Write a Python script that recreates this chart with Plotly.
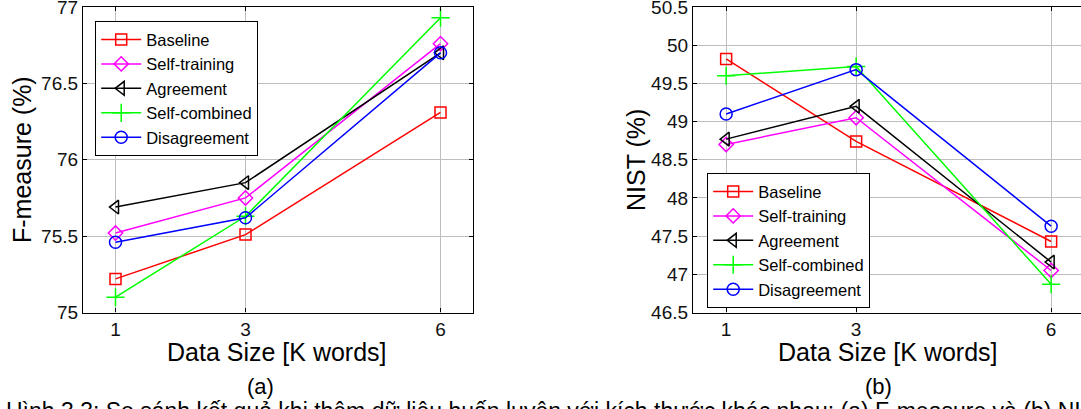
import plotly.graph_objects as go

W, H = 1081, 409

x_vals = [1, 3, 6]
x_ticks = [1, 3, 6]
series_names = ["Baseline", "Self-training", "Agreement", "Self-combined", "Disagreement"]
fmeasure = {
    "Baseline": [75.22, 75.51, 76.31],
    "Self-training": [75.52, 75.75, 76.76],
    "Agreement": [75.69, 75.85, 76.70],
    "Self-combined": [75.10, 75.63, 76.93],
    "Disagreement": [75.46, 75.62, 76.70],
}
nist = {
    "Baseline": [49.82, 48.74, 47.43],
    "Self-training": [48.70, 49.05, 47.05],
    "Agreement": [48.77, 49.20, 47.16],
    "Self-combined": [49.60, 49.72, 46.87],
    "Disagreement": [49.10, 49.68, 47.63],
}
f_ticks = [75, 75.5, 76, 76.5, 77]
n_ticks = [46.5, 47, 47.5, 48, 48.5, 49, 49.5, 50, 50.5]

colors = {"Baseline": "#ff0000", "Self-training": "#ff00ff", "Agreement": "#000000",
          "Self-combined": "#00ff00", "Disagreement": "#0000ff"}
symbols = {"Baseline": "square-open", "Self-training": "diamond-open", "Agreement": "triangle-left-open",
           "Self-combined": "cross-thin-open", "Disagreement": "circle-open"}
sizes = {"Baseline": 11, "Self-training": 11, "Agreement": 12, "Self-combined": 13, "Disagreement": 12}

FONT = "Liberation Sans, Arial, sans-serif"

def px(x):
    return x / W

def py(y):
    return 1 - y / H

fig = go.Figure()
for name in series_names:
    fig.add_trace(go.Scatter(x=x_vals, y=fmeasure[name], name=name, mode="lines+markers",
                             line=dict(color=colors[name], width=1.5),
                             marker=dict(symbol=symbols[name], size=sizes[name], color=colors[name],
                                         line=dict(width=1.5, color=colors[name])),
                             xaxis="x", yaxis="y", legend="legend"))
for name in series_names:
    fig.add_trace(go.Scatter(x=x_vals, y=nist[name], name=name, mode="lines+markers",
                             line=dict(color=colors[name], width=1.5),
                             marker=dict(symbol=symbols[name], size=sizes[name], color=colors[name],
                                         line=dict(width=1.5, color=colors[name])),
                             xaxis="x2", yaxis="y2", legend="legend2"))

axis_common = dict(showline=True, linecolor="black", linewidth=1.2, ticks="inside", ticklen=4,
                   tickcolor="black", showgrid=True, gridcolor="#bdbdbd", gridwidth=1, zeroline=False,
                   ticklabeloverflow="allow",
                   tickfont=dict(size=19, color="#111111", family=FONT))

ydom = [py(312.5), py(7)]
legend_common = dict(xanchor="left", yanchor="top", bgcolor="white",
                     bordercolor="black", borderwidth=1.2, font=dict(size=16.5, family=FONT),
                     tracegroupgap=0, itemwidth=40)
fig.update_layout(
    width=W, height=H, autosize=False, margin=dict(l=0, r=0, t=0, b=0, autoexpand=False),
    paper_bgcolor="white", plot_bgcolor="white",
    font=dict(family=FONT, color="black"),
    xaxis=dict(domain=[px(83), px(473)], range=[0.5, 6.5], tickvals=x_ticks, mirror="ticks",
               anchor="y", **axis_common),
    yaxis=dict(domain=ydom, range=[75, 77], tickvals=f_ticks, ticktext=[f"{v:g}" for v in f_ticks],
               mirror="ticks", anchor="x", **axis_common),
    xaxis2=dict(domain=[px(693), 1.0], range=[0.49, 0.49 + (1081 - 693) / 65.0], tickvals=x_ticks,
                mirror="ticks", anchor="y2", **axis_common),
    yaxis2=dict(domain=ydom, range=[46.5, 50.5], tickvals=n_ticks, ticktext=[f"{v:g}" for v in n_ticks],
                mirror=False, anchor="x2", **axis_common),
    legend=dict(x=px(95), y=py(21), **legend_common),
    legend2=dict(x=px(707), y=py(173), **legend_common),
    showlegend=True,
)

ann = [
    dict(text="F-measure (%)", x=px(22), y=py(160), textangle=-90, font=dict(size=25)),
    dict(text="NIST (%)", x=px(636), y=py(160), textangle=-90, font=dict(size=25)),
    dict(text="Data Size [K words]", x=px(277), y=py(352), font=dict(size=25)),
    dict(text="Data Size [K words]", x=px(888), y=py(352), font=dict(size=25)),
    dict(text="(a)", x=px(260), y=py(386), font=dict(size=22)),
    dict(text="(b)", x=px(878), y=py(386), font=dict(size=22)),
]
for a in ann:
    fig.add_annotation(xref="paper", yref="paper", showarrow=False, xanchor="center", yanchor="middle",
                       font_family=FONT, font_color="black", **{k: v for k, v in a.items()})

caption = "Hình 3.3: So sánh kết quả khi thêm dữ liệu huấn luyện với kích thước khác nhau: (a) F-measure và (b) NIST"
fig.add_annotation(xref="paper", yref="paper", showarrow=False, xanchor="left", yanchor="top",
                   x=px(4), y=py(396), text=caption, font=dict(size=23, family=FONT, color="black"))

fig.write_html("out.html", config={"responsive": False})
